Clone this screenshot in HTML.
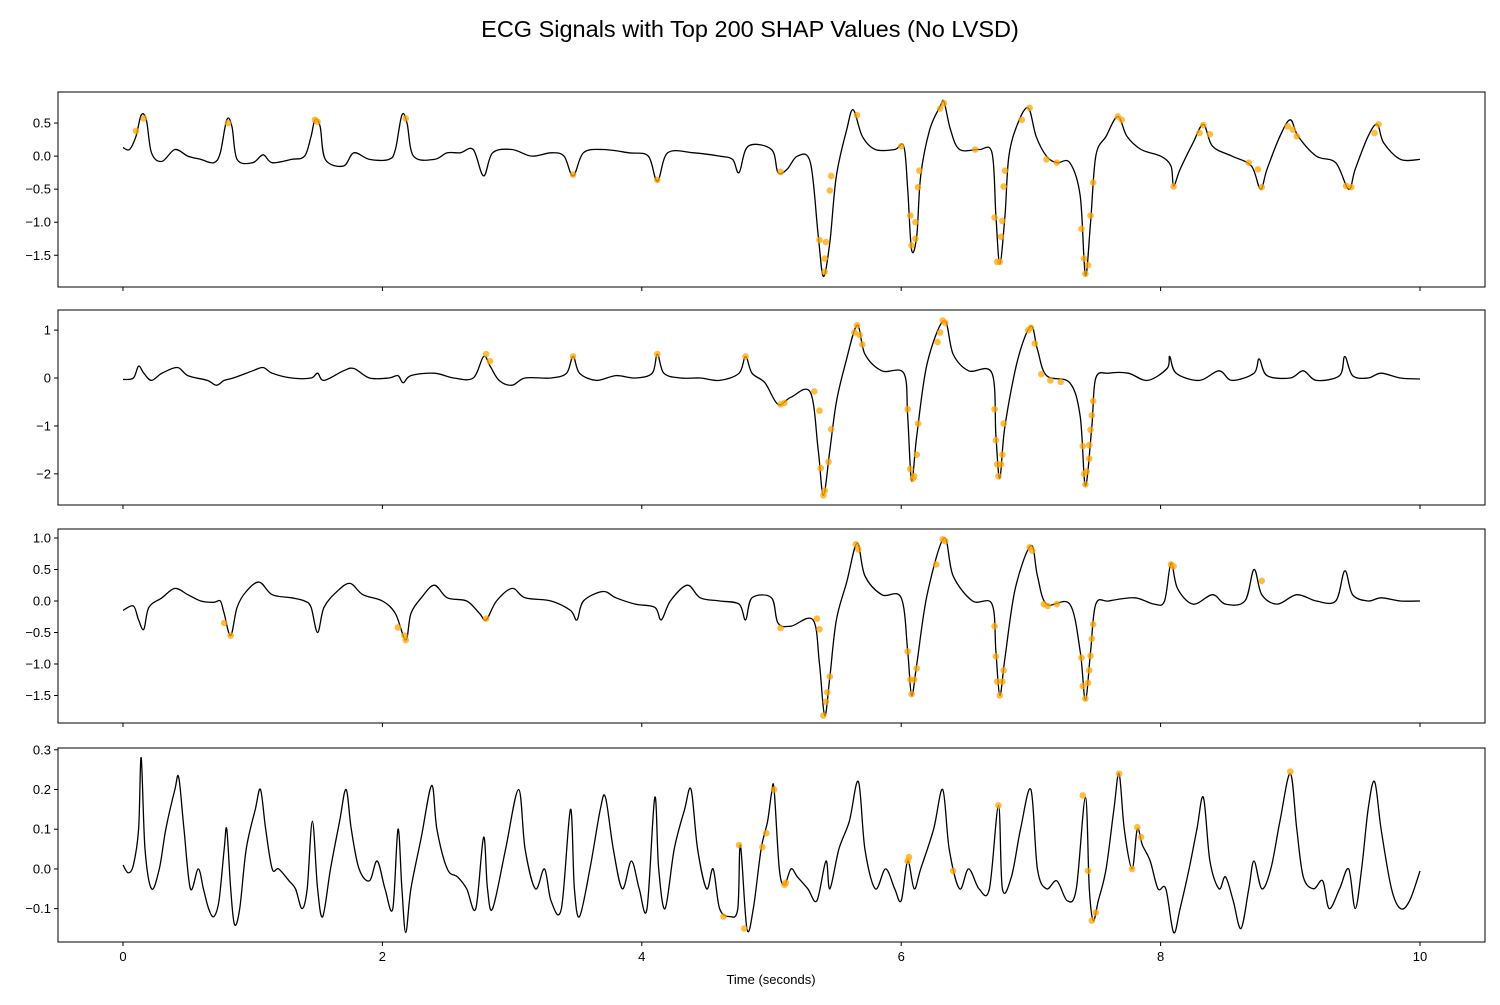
<!DOCTYPE html>
<html><head><meta charset="utf-8"><style>
body{margin:0;background:#fff;font-family:"Liberation Sans",sans-serif}
svg text{font-family:"Liberation Sans",sans-serif}
</style></head><body>
<svg id="chart" width="1500" height="1000" viewBox="0 0 1500 1000">
<text x="750" y="37" text-anchor="middle" font-size="23.5">ECG Signals with Top 200 SHAP Values (No LVSD)</text>
<text x="771" y="984" text-anchor="middle" font-size="13">Time (seconds)</text>
</svg>
<script>
const xTicks=[0,2,4,6,8,10];
const sig1=[[0,0.13],[0.05,0.1],[0.1,0.3],[0.14,0.62],[0.18,0.55],[0.22,0.05],[0.3,-0.08],[0.4,0.1],[0.5,0],[0.6,-0.05],[0.7,-0.1],[0.75,0.05],[0.8,0.55],[0.84,0.45],[0.88,-0.05],[1.0,-0.1],[1.08,0.02],[1.15,-0.1],[1.3,-0.05],[1.4,0.0],[1.45,0.3],[1.48,0.55],[1.52,0.45],[1.56,-0.05],[1.7,-0.15],[1.78,0.05],[1.9,-0.05],[2.05,-0.05],[2.1,0.1],[2.15,0.62],[2.19,0.5],[2.24,0],[2.4,-0.05],[2.5,0.05],[2.6,0.05],[2.7,0.1],[2.78,-0.3],[2.85,0.05],[3.0,0.1],[3.15,0.0],[3.3,0.05],[3.4,0.0],[3.47,-0.3],[3.55,0.05],[3.7,0.1],[3.9,0.05],[4.05,0.0],[4.12,-0.38],[4.2,0.05],[4.4,0.05],[4.6,0.0],[4.7,-0.05],[4.75,-0.25],[4.82,0.15],[5.0,0.1],[5.05,-0.25],[5.12,-0.2],[5.2,0.0],[5.3,-0.1],[5.36,-1.2],[5.4,-1.82],[5.45,-1.3],[5.5,-0.3],[5.58,0.4],[5.63,0.7],[5.7,0.3],[5.8,0.1],[5.95,0.1],[6.02,0.15],[6.05,-0.5],[6.08,-1.42],[6.12,-1.2],[6.15,-0.3],[6.22,0.4],[6.3,0.75],[6.33,0.82],[6.38,0.4],[6.45,0.1],[6.6,0.1],[6.7,0.05],[6.73,-0.9],[6.76,-1.63],[6.8,-0.9],[6.83,0],[6.9,0.5],[6.98,0.73],[7.04,0.3],[7.12,0.0],[7.2,-0.1],[7.3,-0.1],[7.38,-0.6],[7.42,-1.8],[7.46,-1.0],[7.5,0.0],[7.58,0.3],[7.67,0.6],[7.74,0.3],[7.85,0.1],[8.0,0.0],[8.08,-0.15],[8.1,-0.45],[8.15,-0.2],[8.25,0.2],[8.33,0.48],[8.4,0.15],[8.55,0.0],[8.7,-0.15],[8.77,-0.5],[8.82,-0.2],[8.92,0.3],[9.0,0.55],[9.06,0.3],[9.2,0.0],[9.35,-0.1],[9.45,-0.5],[9.5,-0.2],[9.6,0.3],[9.67,0.48],[9.72,0.2],[9.85,-0.05],[10,-0.05]];
const pts1=[[0.1,0.38],[0.16,0.57],[0.81,0.5],[1.48,0.55],[1.5,0.52],[2.18,0.57],[3.47,-0.28],[4.12,-0.36],[5.07,-0.24],[5.37,-1.27],[5.41,-1.75],[5.41,-1.55],[5.42,-1.3],[5.45,-0.52],[5.46,-0.3],[5.66,0.62],[6.0,0.15],[6.07,-0.9],[6.08,-1.35],[6.11,-1.25],[6.11,-1.0],[6.13,-0.47],[6.14,-0.22],[6.3,0.72],[6.33,0.8],[6.57,0.1],[6.72,-0.93],[6.74,-1.6],[6.76,-1.6],[6.77,-1.22],[6.78,-0.98],[6.79,-0.46],[6.8,-0.22],[6.93,0.55],[6.99,0.73],[7.12,-0.05],[7.2,-0.1],[7.39,-1.1],[7.41,-1.55],[7.42,-1.78],[7.44,-1.65],[7.46,-0.9],[7.48,-0.4],[7.67,0.6],[7.7,0.55],[8.1,-0.46],[8.3,0.35],[8.33,0.47],[8.38,0.33],[8.68,-0.1],[8.75,-0.2],[8.78,-0.47],[8.98,0.45],[9.02,0.4],[9.05,0.3],[9.43,-0.45],[9.47,-0.47],[9.65,0.35],[9.68,0.48]];
const yTicks1=[0.5,0.0,-0.5,-1.0,-1.5];
const sig2=[[0,-0.03],[0.08,0.0],[0.12,0.25],[0.16,0.1],[0.22,-0.05],[0.3,0.1],[0.42,0.22],[0.5,0.05],[0.65,-0.05],[0.72,-0.15],[0.78,-0.05],[0.85,0.0],[1.0,0.15],[1.08,0.22],[1.15,0.1],[1.3,0.0],[1.45,0.0],[1.5,0.1],[1.55,-0.05],[1.7,0.15],[1.78,0.2],[1.9,0.0],[2.05,0.0],[2.12,0.05],[2.16,-0.1],[2.22,0.05],[2.4,0.1],[2.55,0.0],[2.7,0.0],[2.78,0.45],[2.83,0.25],[2.9,-0.05],[3.0,-0.15],[3.1,0.0],[3.3,0.0],[3.42,0.1],[3.47,0.45],[3.52,0.1],[3.65,-0.05],[3.8,0.05],[3.95,0.0],[4.08,0.1],[4.12,0.5],[4.17,0.1],[4.3,0.0],[4.45,0.0],[4.6,-0.05],[4.75,0.1],[4.8,0.45],[4.85,0.1],[4.95,-0.1],[5.05,-0.55],[5.15,-0.4],[5.3,-0.3],[5.36,-1.5],[5.4,-2.45],[5.45,-1.5],[5.5,-0.5],[5.57,0.3],[5.66,1.1],[5.72,0.5],[5.85,0.15],[6.02,0.1],[6.05,-0.8],[6.08,-2.15],[6.12,-1.2],[6.2,0.3],[6.33,1.2],[6.4,0.5],[6.52,0.15],[6.7,0.1],[6.73,-1.2],[6.76,-2.1],[6.8,-1.0],[6.9,0.4],[7.0,1.08],[7.05,0.6],[7.12,0.05],[7.3,-0.1],[7.38,-0.8],[7.42,-2.25],[7.47,-1.0],[7.5,0.0],[7.6,0.1],[7.75,0.1],[7.9,-0.05],[8.05,0.2],[8.07,0.45],[8.12,0.1],[8.3,-0.05],[8.45,0.15],[8.55,-0.05],[8.72,0.1],[8.76,0.4],[8.82,0.05],[9.0,0.0],[9.1,0.15],[9.2,-0.05],[9.38,0.05],[9.42,0.45],[9.48,0.05],[9.6,0.0],[9.7,0.1],[9.85,0.0],[10,-0.02]];
const pts2=[[2.8,0.5],[2.83,0.35],[3.47,0.45],[4.12,0.5],[4.8,0.45],[5.07,-0.55],[5.1,-0.52],[5.33,-0.28],[5.37,-0.68],[5.38,-1.88],[5.4,-2.45],[5.41,-2.35],[5.44,-1.75],[5.46,-1.07],[5.64,0.95],[5.66,1.1],[5.68,0.9],[5.7,0.7],[6.05,-0.65],[6.07,-1.9],[6.09,-2.1],[6.1,-2.05],[6.12,-1.6],[6.13,-0.95],[6.28,0.75],[6.3,0.95],[6.32,1.2],[6.34,1.15],[6.72,-0.65],[6.73,-1.3],[6.74,-1.8],[6.75,-2.05],[6.77,-1.8],[6.78,-1.6],[6.79,-0.95],[6.98,1.0],[7.0,1.05],[7.03,0.72],[7.08,0.08],[7.15,-0.05],[7.23,-0.08],[7.4,-1.42],[7.41,-2.0],[7.42,-2.22],[7.43,-1.95],[7.45,-1.4],[7.45,-1.68],[7.46,-1.08],[7.47,-0.78],[7.48,-0.48]];
const yTicks2=[1,0,-1,-2];
const sig3=[[0,-0.15],[0.08,-0.08],[0.12,-0.3],[0.16,-0.45],[0.2,-0.1],[0.3,0.05],[0.4,0.2],[0.5,0.1],[0.6,0.0],[0.7,-0.02],[0.75,0.0],[0.78,-0.2],[0.83,-0.55],[0.88,-0.1],[0.95,0.15],[1.05,0.3],[1.15,0.1],[1.3,0.05],[1.4,0.0],[1.45,-0.1],[1.5,-0.5],[1.55,-0.1],[1.65,0.15],[1.75,0.28],[1.85,0.1],[2.0,0.0],[2.1,-0.2],[2.18,-0.62],[2.22,-0.2],[2.3,0.05],[2.4,0.25],[2.5,0.05],[2.65,0.0],[2.75,-0.2],[2.8,-0.3],[2.88,0.0],[3.0,0.2],[3.1,0.05],[3.3,0.0],[3.45,-0.15],[3.5,-0.3],[3.55,0.0],[3.7,0.15],[3.8,0.05],[3.95,-0.05],[4.1,-0.1],[4.15,-0.3],[4.22,0.0],[4.35,0.25],[4.45,0.05],[4.6,0.0],[4.75,-0.05],[4.8,-0.3],[4.85,0.05],[5.0,0.05],[5.05,-0.35],[5.15,-0.4],[5.32,-0.3],[5.37,-1.0],[5.41,-1.82],[5.45,-1.2],[5.5,-0.3],[5.58,0.3],[5.66,0.92],[5.72,0.4],[5.85,0.1],[6.0,0.05],[6.05,-0.8],[6.08,-1.5],[6.12,-1.0],[6.2,0.1],[6.33,1.0],[6.4,0.4],[6.55,0.0],[6.7,-0.05],[6.73,-0.8],[6.76,-1.5],[6.8,-0.9],[6.88,0.2],[7.0,0.88],[7.05,0.4],[7.12,-0.05],[7.3,-0.05],[7.38,-0.8],[7.42,-1.57],[7.46,-0.8],[7.5,-0.05],[7.6,0.0],[7.8,0.05],[7.95,-0.05],[8.03,0.0],[8.08,0.6],[8.13,0.2],[8.25,-0.05],[8.4,0.1],[8.5,-0.05],[8.65,0.0],[8.72,0.5],[8.78,0.1],[8.9,-0.05],[9.05,0.1],[9.2,0.0],[9.35,0.0],[9.42,0.48],[9.48,0.1],[9.6,0.0],[9.7,0.05],[9.85,0.0],[10,0.0]];
const pts3=[[0.78,-0.35],[0.83,-0.55],[2.12,-0.42],[2.17,-0.55],[2.18,-0.62],[2.8,-0.28],[5.07,-0.43],[5.35,-0.28],[5.37,-0.45],[5.4,-1.82],[5.42,-1.6],[5.43,-1.45],[5.45,-1.2],[5.65,0.9],[5.67,0.82],[6.05,-0.8],[6.07,-1.25],[6.08,-1.48],[6.1,-1.25],[6.12,-1.07],[6.27,0.58],[6.32,0.98],[6.34,0.95],[6.72,-0.4],[6.73,-0.88],[6.74,-1.28],[6.76,-1.5],[6.78,-1.28],[6.79,-1.1],[6.99,0.85],[7.01,0.8],[7.1,-0.05],[7.13,-0.08],[7.2,-0.05],[7.39,-0.9],[7.4,-1.35],[7.42,-1.55],[7.44,-1.3],[7.45,-1.1],[7.46,-0.87],[7.47,-0.6],[7.48,-0.37],[8.08,0.58],[8.1,0.55],[8.78,0.32]];
const yTicks3=[1.0,0.5,0.0,-0.5,-1.0,-1.5];
const sig4=[[0,0.01],[0.04,-0.01],[0.08,0.01],[0.12,0.1],[0.14,0.28],[0.17,0.05],[0.22,-0.05],[0.28,0.0],[0.33,0.1],[0.4,0.2],[0.43,0.23],[0.47,0.1],[0.52,-0.05],[0.58,0.0],[0.62,-0.05],[0.66,-0.1],[0.7,-0.12],[0.74,-0.08],[0.78,0.05],[0.8,0.1],[0.83,-0.05],[0.86,-0.14],[0.9,-0.1],[0.95,0.05],[1.02,0.15],[1.06,0.2],[1.1,0.1],[1.15,0.0],[1.2,0.0],[1.28,-0.03],[1.33,-0.05],[1.38,-0.1],[1.42,-0.05],[1.46,0.12],[1.5,-0.05],[1.54,-0.12],[1.6,0.0],[1.67,0.12],[1.72,0.2],[1.76,0.1],[1.82,0.0],[1.9,-0.03],[1.96,0.02],[2.02,-0.05],[2.08,-0.1],[2.12,0.1],[2.15,-0.05],[2.18,-0.16],[2.22,-0.05],[2.3,0.08],[2.38,0.21],[2.42,0.1],[2.5,0.0],[2.58,-0.02],[2.65,-0.05],[2.72,-0.1],[2.78,0.08],[2.81,-0.05],[2.85,-0.1],[2.95,0.05],[3.05,0.2],[3.1,0.05],[3.18,-0.05],[3.25,0.0],[3.3,-0.08],[3.38,-0.1],[3.45,0.15],[3.48,-0.05],[3.52,-0.12],[3.6,0.0],[3.68,0.15],[3.72,0.18],[3.78,0.05],[3.85,-0.05],[3.92,0.02],[3.98,-0.05],[4.04,-0.1],[4.1,0.18],[4.13,0.0],[4.18,-0.1],[4.25,0.05],[4.33,0.15],[4.38,0.2],[4.43,0.05],[4.5,-0.05],[4.55,0.0],[4.6,-0.1],[4.68,-0.12],[4.74,-0.1],[4.76,0.06],[4.81,-0.15],[4.86,-0.1],[4.92,0.05],[4.97,0.12],[5.0,0.19],[5.02,0.2],[5.06,0.0],[5.1,-0.04],[5.15,0.0],[5.2,-0.02],[5.28,-0.05],[5.35,-0.08],[5.42,0.02],[5.45,-0.05],[5.52,0.05],[5.6,0.12],[5.67,0.22],[5.72,0.05],[5.8,-0.05],[5.88,0.0],[5.95,-0.05],[6.0,-0.08],[6.05,0.02],[6.1,-0.05],[6.15,0.0],[6.25,0.1],[6.32,0.2],[6.37,0.05],[6.45,-0.05],[6.52,0.0],[6.6,-0.05],[6.68,-0.05],[6.75,0.16],[6.78,-0.05],[6.85,-0.02],[6.92,0.1],[7.0,0.2],[7.05,0.0],[7.12,-0.05],[7.2,-0.03],[7.28,-0.08],[7.35,-0.05],[7.42,0.18],[7.45,-0.05],[7.48,-0.13],[7.52,-0.08],[7.58,0.0],[7.64,0.15],[7.68,0.24],[7.72,0.1],[7.78,0.0],[7.82,0.1],[7.86,0.06],[7.92,0.02],[7.98,-0.05],[8.04,-0.05],[8.1,-0.16],[8.15,-0.1],[8.22,0.0],[8.28,0.1],[8.33,0.18],[8.38,0.02],[8.45,-0.05],[8.5,-0.02],[8.56,-0.08],[8.62,-0.15],[8.68,-0.05],[8.72,0.02],[8.78,-0.05],[8.85,0.0],[8.92,0.12],[9.0,0.24],[9.05,0.1],[9.1,-0.02],[9.18,-0.05],[9.25,-0.03],[9.3,-0.1],[9.38,-0.05],[9.45,0.0],[9.5,-0.1],[9.55,0.0],[9.6,0.15],[9.65,0.22],[9.7,0.1],[9.78,-0.05],[9.85,-0.1],[9.92,-0.08],[10,-0.005]];
const pts4=[[4.63,-0.12],[4.75,0.06],[4.79,-0.15],[4.93,0.055],[4.96,0.09],[5.02,0.2],[5.1,-0.04],[5.11,-0.035],[6.05,0.02],[6.06,0.03],[6.4,-0.005],[6.75,0.16],[7.4,0.185],[7.44,-0.005],[7.47,-0.13],[7.5,-0.11],[7.68,0.24],[7.78,0.0],[7.82,0.105],[7.85,0.08],[9.0,0.245]];
const yTicks4=[0.3,0.2,0.1,0.0,-0.1];

const NS='http://www.w3.org/2000/svg';
const svg=document.getElementById('chart');
const L=58,R=1485,X0=123,X1=1420;
function xs(t){return X0+(X1-X0)*t/10;}
const panels=[
 {sig:sig1,pts:pts1,ticks:yTicks1,top:92,bot:287,ymax:0.97,ymin:-1.98,fmt:1},
 {sig:sig2,pts:pts2,ticks:yTicks2,top:310,bot:505,ymax:1.42,ymin:-2.65,fmt:0},
 {sig:sig3,pts:pts3,ticks:yTicks3,top:529,bot:723,ymax:1.143,ymin:-1.937,fmt:1},
 {sig:sig4,pts:pts4,ticks:yTicks4,top:748,bot:942,ymax:0.3045,ymin:-0.184,fmt:1}
];
function mk(tag,attrs,parent){const e=document.createElementNS(NS,tag);for(const k in attrs)e.setAttribute(k,attrs[k]);(parent||svg).appendChild(e);return e;}
function smoothPath(P){
  let d='M'+P[0][0].toFixed(1)+' '+P[0][1].toFixed(1);
  for(let i=0;i<P.length-1;i++){
    const p0=P[Math.max(0,i-1)],p1=P[i],p2=P[i+1],p3=P[Math.min(P.length-1,i+2)];
    const c1x=p1[0]+(p2[0]-p0[0])/6,c1y=p1[1]+(p2[1]-p0[1])/6;
    const c2x=p2[0]-(p3[0]-p1[0])/6,c2y=p2[1]-(p3[1]-p1[1])/6;
    d+='C'+c1x.toFixed(1)+' '+c1y.toFixed(1)+' '+c2x.toFixed(1)+' '+c2y.toFixed(1)+' '+p2[0].toFixed(1)+' '+p2[1].toFixed(1);
  }
  return d;
}
panels.forEach((p,i)=>{
  const g=mk('g',{});
  
  
  const ys=v=>p.top+(p.ymax-v)/(p.ymax-p.ymin)*(p.bot-p.top);
  const P=p.sig.map(q=>[xs(q[0]),ys(q[1])]);
  const line=mk('path',{d:smoothPath(P),fill:'none',stroke:'#000','stroke-width':1.3,'stroke-linejoin':'round'},g);
  
  
  p.pts.forEach(q=>{
    const c=mk('circle',{cx:xs(q[0]),cy:ys(q[1]),r:3.3,fill:'#FFA500','fill-opacity':0.75},g);
    
    
  });
  const fr=mk('rect',{x:L,y:p.top,width:R-L,height:p.bot-p.top,fill:'none',stroke:'#000','stroke-width':1},g);
  
  
  p.ticks.forEach(v=>{
    const y=ys(v);
    mk('line',{x1:L-4,x2:L,y1:y,y2:y,stroke:'#000'},g);
    const t=mk('text',{x:L-7,y:y+4.5,'text-anchor':'end','font-size':13},g);
    t.textContent=p.fmt?v.toFixed(1).replace('-','\u2212'):String(v).replace('-','\u2212');
    
    
  });
  xTicks.forEach(v=>{
    const x=xs(v);
    mk('line',{x1:x,x2:x,y1:p.bot,y2:p.bot+4,stroke:'#000'},g);
    if(i===3){
      const t=mk('text',{x:x,y:p.bot+19,'text-anchor':'middle','font-size':13},g);
      t.textContent=String(v);
      
      
    }
  });
});
</script>
</body></html>
